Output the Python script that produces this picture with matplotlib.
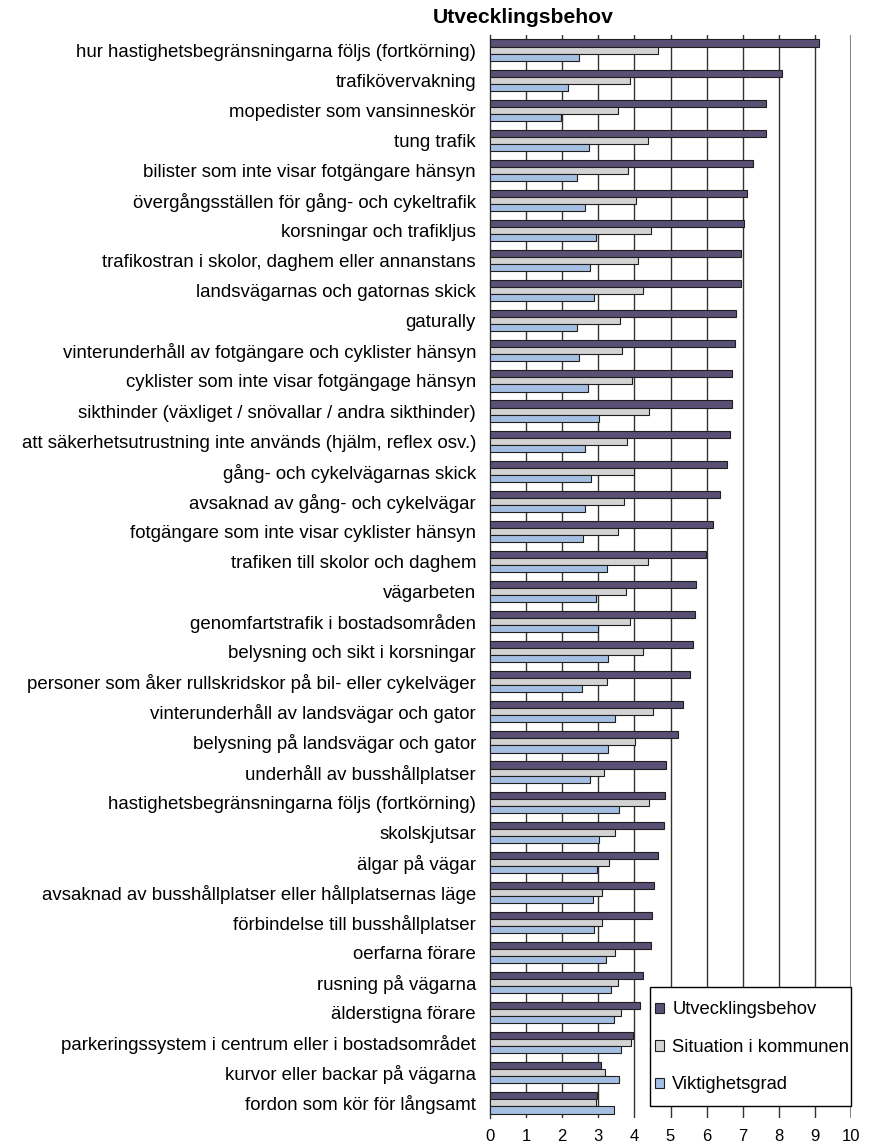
import numpy as np
import matplotlib

matplotlib.use("Agg")
import matplotlib.pyplot as plt
from matplotlib.patches import Rectangle

plt.rcParams["font.family"] = ["Liberation Sans", "DejaVu Sans"]

categories = [
    "hur hastighetsbegränsningarna följs (fortkörning)",
    "trafikövervakning",
    "mopedister som vansinneskör",
    "tung trafik",
    "bilister som inte visar fotgängare hänsyn",
    "övergångsställen för gång- och cykeltrafik",
    "korsningar och trafikljus",
    "trafikostran i skolor, daghem eller annanstans",
    "landsvägarnas och gatornas skick",
    "gaturally",
    "vinterunderhåll av fotgängare och cyklister hänsyn",
    "cyklister som inte visar fotgängage hänsyn",
    "sikthinder (växliget / snövallar / andra sikthinder)",
    "att säkerhetsutrustning inte används (hjälm, reflex osv.)",
    "gång- och cykelvägarnas skick",
    "avsaknad av gång- och cykelvägar",
    "fotgängare som inte visar cyklister hänsyn",
    "trafiken till skolor och daghem",
    "vägarbeten",
    "genomfartstrafik i bostadsområden",
    "belysning och sikt i korsningar",
    "personer som åker rullskridskor på bil- eller cykelväger",
    "vinterunderhåll av landsvägar och gator",
    "belysning på landsvägar och gator",
    "underhåll av busshållplatser",
    "hastighetsbegränsningarna följs (fortkörning)",
    "skolskjutsar",
    "älgar på vägar",
    "avsaknad av busshållplatser eller hållplatsernas läge",
    "förbindelse till busshållplatser",
    "oerfarna förare",
    "rusning på vägarna",
    "älderstigna förare",
    "parkeringssystem i centrum eller i bostadsområdet",
    "kurvor eller backar på vägarna",
    "fordon som kör för långsamt",
]

utvecklingsbehov = [
    9.12, 8.10, 7.65, 7.65, 7.28, 7.11, 7.04, 6.95, 6.95, 6.81, 6.79, 6.70,
    6.70, 6.64, 6.57, 6.37, 6.17, 5.97, 5.71, 5.68, 5.61, 5.54, 5.34, 5.21,
    4.88, 4.84, 4.82, 4.65, 4.54, 4.48, 4.45, 4.24, 4.15, 3.97, 3.07, 2.97,
]
situation = [
    4.65, 3.88, 3.54, 4.38, 3.81, 4.04, 4.45, 4.11, 4.24, 3.60, 3.67, 3.93,
    4.40, 3.80, 4.00, 3.70, 3.54, 4.38, 3.77, 3.87, 4.24, 3.23, 4.51, 4.03,
    3.17, 4.40, 3.47, 3.31, 3.11, 3.11, 3.47, 3.54, 3.64, 3.90, 3.18, 2.94,
]
viktighetsgrad = [
    2.47, 2.17, 1.97, 2.73, 2.41, 2.64, 2.94, 2.77, 2.87, 2.40, 2.47, 2.71,
    3.03, 2.63, 2.80, 2.63, 2.57, 3.23, 2.94, 3.00, 3.27, 2.54, 3.46, 3.27,
    2.77, 3.57, 3.03, 2.96, 2.85, 2.87, 3.20, 3.35, 3.44, 3.64, 3.57, 3.44,
]

series = [
    ("Utvecklingsbehov", utvecklingsbehov, "#5a4f75"),
    ("Situation i kommunen", situation, "#d3d3d3"),
    ("Viktighetsgrad", viktighetsgrad, "#a5bfe3"),
]

fig = plt.figure(figsize=(8.71, 11.44), dpi=100)
ax = fig.add_axes([490 / 871, 1 - 1118 / 1144, 361 / 871, (1118 - 35) / 1144])

y = np.arange(len(categories))
h = 0.235
for i, (name, vals, col) in enumerate(series):
    ax.barh(y + (i - 1) * h, vals, height=h, color=col, edgecolor="#1e1e1e",
            linewidth=0.8, label=name, zorder=3)

ax.set_ylim(len(categories) - 0.5, -0.5)
ax.set_xlim(0, 10)
ax.set_yticks(y)
ax.set_yticklabels(categories, fontsize=13.4)
ax.set_xticks(range(0, 11))
ax.tick_params(axis="x", length=0, labelsize=12, pad=8)
ax.tick_params(axis="y", length=0, pad=10)

for v in range(1, 10):
    ax.axvline(v, color="#333333", lw=1.0, zorder=1)
ax.axvline(10, color="#888888", lw=1.5, zorder=1)

for s in ["top", "right", "bottom"]:
    ax.spines[s].set_visible(False)
ax.spines["left"].set_color("#333333")
ax.spines["left"].set_linewidth(1.0)

# legend box drawn by hand so the text can sit close to the right edge
ax.add_patch(Rectangle((0.443, 0.0111), 0.557, 0.1099, transform=ax.transAxes,
                       facecolor="white", edgecolor="black", lw=1.0, zorder=4,
                       clip_on=False))
leg = ax.legend(loc="upper left", bbox_to_anchor=(0.457, 0.1077), fontsize=13.2,
                frameon=False, handlelength=0.5, handleheight=0.5,
                handletextpad=0.44, labelspacing=1.12, borderpad=0,
                borderaxespad=0)
leg.set_zorder(5)

fig.text(433 / 871, 1 - 23 / 1144, "Utvecklingsbehov", ha="left", va="baseline",
         fontsize=15.2, fontweight="bold")

fig.savefig("out.png", dpi=100, facecolor="white")
